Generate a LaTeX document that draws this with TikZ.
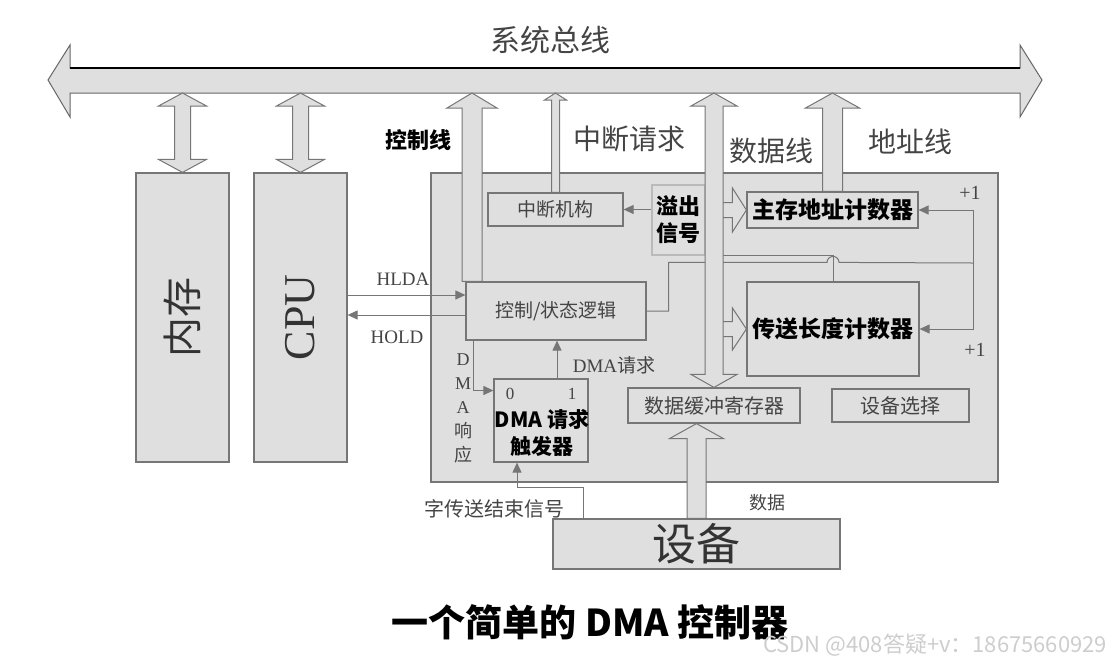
\documentclass[tikz,border=0pt]{standalone}
\usepackage{fontspec}
\setmainfont{Liberation Serif}
\newfontfamily\cjk{Noto Sans CJK SC}
\usetikzlibrary{arrows.meta, calc}

\definecolor{boxfill}{RGB}{223,223,223}
\definecolor{boxline}{RGB}{118,118,118}
\definecolor{labelgray}{RGB}{68,68,68}
\definecolor{markgray}{RGB}{205,205,205}

\newcommand{\fsz}[1]{\fontsize{#1}{#1}\selectfont}

% hollow arrows: foot, tip, half shaft, half head, head length
\newcommand{\hollowup}[5]{%
  \filldraw[hollow] ($#1+(-#3,0)$) -- ($#2+(-#3,#5)$) -- ($#2+(-#4,#5)$) -- #2
    -- ($#2+(#4,#5)$) -- ($#2+(#3,#5)$) -- ($#1+(#3,0)$) -- cycle;}
\newcommand{\hollowboth}[5]{%
  \filldraw[hollow] #2 -- ($#2+(#4,#5)$) -- ($#2+(#3,#5)$) -- ($#1+(#3,-#5)$)
    -- ($#1+(#4,-#5)$) -- #1 -- ($#1+(-#4,-#5)$) -- ($#1+(-#3,-#5)$)
    -- ($#2+(-#3,#5)$) -- ($#2+(-#4,#5)$) -- cycle;}
\newcommand{\hollowright}[5]{%
  \filldraw[hollow] ($#1+(0,-#3)$) -- ($#2+(-#5,-#3)$) -- ($#2+(-#5,-#4)$) -- #2
    -- ($#2+(-#5,#4)$) -- ($#2+(-#5,#3)$) -- ($#1+(0,#3)$) -- cycle;}

\begin{document}
\begin{tikzpicture}[
    x=1pt, y=-1pt,
    box/.style={draw=boxline, fill=boxfill, line width=1.2pt, inner sep=0pt},
    hollow/.style={draw=boxline, fill=boxfill, line width=1pt},
    wire/.style={draw=boxline, line width=1pt},
    sig/.style={wire, -{Triangle[length=10pt, width=9pt]}},
    lbl/.style={text=labelgray, font=\cjk\fsz{#1}},
    latin/.style={text=labelgray, font=\fsz{#1}},
    boldlbl/.style={text=black, font=\cjk\bfseries\fsz{#1}, align=center}
]
\useasboundingbox (0,0) rectangle (1115,665);

% --- System bus ---
\filldraw[hollow, draw=black!60] (48,80) -- (70,45) -- (70,68) -- (1020,68) -- (1020,45)
    -- (1042,80) -- (1020,117) -- (1020,93) -- (70,93) -- (70,117) -- cycle;
\draw[line width=1.6pt] (70,68) -- (1020,68);
\coordinate (busS) at (0,93);
\node[lbl=30] (bustxt) at (550,40) {系统总线};

% --- Memory and CPU ---
\node[box, minimum width=93pt, minimum height=289pt] (mem) at (182.5,317.5) {};
\node[box, minimum width=93pt, minimum height=289pt] (cpu) at (300.5,317.5) {};
\node[rotate=90, text=black!80, font=\cjk\fsz{40}] (memtxt) at (mem) {内存};
\node[rotate=90, text=black!80, font=\fsz{44}] (cputxt) at (cpu) {CPU};
\hollowboth{(mem.north)}{(mem.north |- busS)}{8}{24}{13}
\hollowboth{(cpu.north)}{(cpu.north |- busS)}{8}{24}{13}

% --- DMA controller ---
\node[box, minimum width=567pt, minimum height=309pt] (dmac) at (714.5,327.5) {};
\node[box, lbl=19, minimum width=135pt, minimum height=33pt] (intr) at (555.5,209.5) {中断机构};
\node[box, draw=boxline!50, boldlbl=22, minimum width=53pt, minimum height=70pt] (ovf) at (678.5,220) {溢出\\[5pt]信号};
\node[box, boldlbl=23, minimum width=171pt, minimum height=36pt] (mar) at (832.5,210) {主存地址计数器};
\node[box, lbl=19, minimum width=180pt, minimum height=58pt] (ctrl) at (556,311) {控制/状态逻辑};
\node[box, boldlbl=23, minimum width=172pt, minimum height=94pt] (wcr) at (833,329) {传送长度计数器};
\node[box, minimum width=94pt, minimum height=83pt] (req) at (541,420.5) {};
\node[box, lbl=20, minimum width=172pt, minimum height=35pt] (dbr) at (714,405.5) {数据缓冲寄存器};
\node[box, lbl=20, minimum width=137pt, minimum height=33pt] (sel) at (900.5,405.5) {设备选择};
\coordinate (inc) at (973,263);

% --- Trigger contents ---
\node[latin=17] (bit0) at (510,394) {0};
\node[latin=17] (bit1) at (572,394) {1};
\node[boldlbl=21] (reqtxt) at (542,433) {DMA 请求\\[6pt]触发器};

% --- Signals ---
\draw[sig] (ovf.west |- intr.east) -- (intr.east);
\draw[sig] (inc) |- (mar.east);
\draw[sig] (inc) |- (wcr.east);
\draw[wire] (ctrl.east) -- ++(22,0) |- ($(wcr.north)+(-6,-19)$)
    arc[start angle=180, end angle=0, radius=6pt] -- (inc);
\draw[wire] (wcr.north) |- (ovf.south east);
\coordinate (hlda) at ([yshift=16pt]ctrl.west);
\coordinate (hold) at ([yshift=-4pt]ctrl.west);
\draw[sig] (hlda -| cpu.east) -- (hlda);
\draw[sig] (hold) -- (hold -| cpu.east);
\coordinate (rq) at ([xshift=16pt]req.north);
\draw[sig] (rq) -- (rq |- ctrl.south);
\coordinate (ack) at ([yshift=30pt]req.west);
\draw[sig] ([xshift=8pt]ctrl.south west) |- (ack);

% --- Data paths ---
\hollowright{(dbr.north |- mar.west)}{(mar.west)}{7.5}{22}{14}
\hollowright{(dbr.north |- wcr.west)}{(wcr.west)}{7.5}{21}{14}
\coordinate (cl) at (472,0);
\hollowup{(cl |- ctrl.north)}{(cl |- busS)}{10}{25}{15}
\hollowup{(intr.north)}{(intr.north |- busS)}{4}{11}{7}
\hollowup{(mar.north)}{(mar.north |- busS)}{10}{27}{15}
\hollowboth{(dbr.north)}{(dbr.north |- busS)}{9}{23}{13}

% --- Device ---
\node[box, lbl=44, text=black!80, minimum width=287pt, minimum height=50pt] (dev) at (696.5,544) {设备};
\hollowup{(dev.north)}{(dev.north |- dbr.south)}{9.5}{27}{15}
\draw[sig] ([xshift=31pt]dev.north west) -- ++(0,-31) -| ([xshift=-24pt]req.south);

% --- Labels ---
\node[boldlbl=22] (ctltxt) at (418,140) {控制线};
\node[lbl=28] (irqtxt) at (629,139) {中断请求};
\node[lbl=28] (datatxt) at (771,151) {数据线};
\node[lbl=28] (addrtxt) at (910,142) {地址线};
\node[latin=19] (hldatxt) at (403,279) {HLDA};
\node[latin=19] (holdtxt) at (397,337) {HOLD};
\node[latin=19] (rqtxt) at (614,365) {DMA{\cjk 请求}};
\node[latin=18, align=center] (acktxt) at (463,408) {D\\[6pt]M\\[6pt]A\\[6pt]{\cjk 响}\\[6pt]{\cjk 应}};
\node[latin=20] (inc1) at (970,193) {+1};
\node[latin=20] (inc2) at (975,350) {+1};
\node[lbl=20] (eowtxt) at (494,509) {字传送结束信号};
\node[lbl=18] (devdata) at (767,503) {数据};
\node[boldlbl=37] (title) at (590,622) {一个简单的 DMA 控制器};
\node[text=markgray, font=\cjk\fsz{22}] (wm) at (935,645) {CSDN @408答疑+v：18675660929};

\end{tikzpicture}
\end{document}
